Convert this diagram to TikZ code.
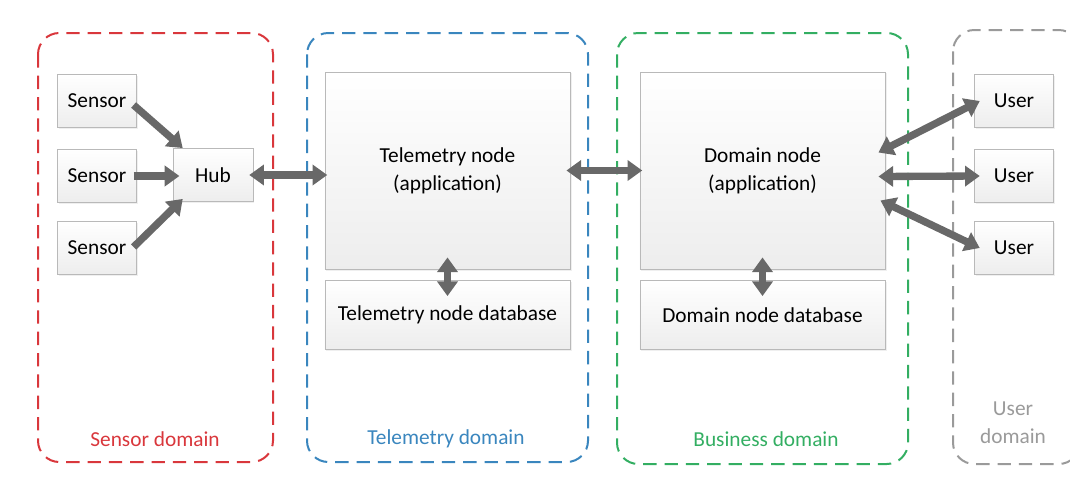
\documentclass[tikz,border=0pt]{standalone}
\usepackage{fontspec}
\setmainfont{Carlito}
\usetikzlibrary{arrows.meta,shadows}
\definecolor{sensred}{HTML}{D9373C}
\definecolor{telblue}{HTML}{3A86BE}
\definecolor{busgreen}{HTML}{33AE62}
\definecolor{usergray}{HTML}{9A9A9A}
\definecolor{arrowgray}{HTML}{686868}
\tikzset{
  box/.style={draw=gray!55, top color=white, bottom color=gray!14, align=center,
    font=\fontsize{16}{21}\selectfont, inner sep=0pt,
    drop shadow={shadow xshift=1pt, shadow yshift=-1pt, fill=gray!25}},
  domframe/.style={dash pattern=on 10pt off 6pt, line width=1.5pt, rounded corners=16pt},
  domlabel/.style={font=\fontsize{16}{21}\selectfont, align=center},
  link/.style={draw=arrowgray, line width=5.5pt, -{Triangle[length=11pt,width=15pt]}},
  twoway/.style={draw=arrowgray, line width=5.5pt, {Triangle[length=11pt,width=15pt]}-{Triangle[length=11pt,width=15pt]}}
}
\begin{document}
\begin{tikzpicture}[x=0.75pt,y=-0.75pt]
\useasboundingbox (0,0) rectangle (1070,489);

% domains
\draw[domframe,sensred] (38,33) rectangle (273,462);
\node[domlabel,text=sensred] (sensdom) at (155,439) {Sensor domain};
\draw[domframe,telblue] (307,33) rectangle (588,462);
\node[domlabel,text=telblue] (teldom) at (446,439) {Telemetry domain};
\draw[domframe,busgreen] (617,33) rectangle (908,464);
\node[domlabel,text=busgreen] (busdom) at (766,439) {Business domain};
\draw[domframe,usergray] (953,30) rectangle (1080,464);
\node[domlabel,text=usergray] (userdom) at (1013,423) {User\\domain};

% nodes
\node[box,minimum width=59pt,minimum height=40pt] (sensorA) at (97,101) {Sensor};
\node[box,minimum width=59pt,minimum height=40pt] (sensorB) at (97,176) {Sensor};
\node[box,minimum width=59pt,minimum height=40pt] (sensorC) at (97,248) {Sensor};
\node[box,minimum width=60pt,minimum height=40pt] (hub) at (213,175) {Hub};
\node[box,minimum width=184pt,minimum height=148pt] (telnode) at (447.5,170.5) {Telemetry node\\(application)};
\node[box,minimum width=184pt,minimum height=52pt] (teldb) at (447.5,315) {Telemetry node database};
\node[box,minimum width=184pt,minimum height=148pt] (domnode) at (762.5,170.5) {Domain node\\(application)};
\node[box,minimum width=184pt,minimum height=52pt] (domdb) at (762.5,315) {Domain node database};
\node[box,minimum width=59pt,minimum height=40pt] (userA) at (1014,101) {User};
\node[box,minimum width=59pt,minimum height=40pt] (userB) at (1014,176) {User};
\node[box,minimum width=59pt,minimum height=40pt] (userC) at (1014,248) {User};

% connectors
\draw[link] ([shift={(-3,4)}]sensorA.east) -- ([shift={(10,0)}]hub.north west);
\draw[link] ([xshift=-2pt]sensorB.east) -- ([xshift=5pt]hub.west |- sensorB.east);
\draw[link] ([shift={(-3,-1)}]sensorC.east) -- ([shift={(10,-3)}]hub.south west);
\draw[twoway] ([xshift=-3pt]hub.east) -- ([xshift=2pt]telnode.west |- hub.east);
\draw[twoway] ([xshift=-3pt]telnode.east) -- ([xshift=2pt]domnode.west);
\draw[twoway] ([yshift=9pt]telnode.south) -- ([yshift=-12pt]teldb.north);
\draw[twoway] ([yshift=9pt]domnode.south) -- ([yshift=-12pt]domdb.north);
\draw[twoway] ([shift={(-7,-18)}]domnode.east) -- ([xshift=4pt]userA.west);
\draw[twoway] ([shift={(-7,6)}]domnode.east) -- ([xshift=4pt]userB.west);
\draw[twoway] ([shift={(-5,30)}]domnode.east) -- ([xshift=4pt]userC.west);
\end{tikzpicture}
\end{document}
